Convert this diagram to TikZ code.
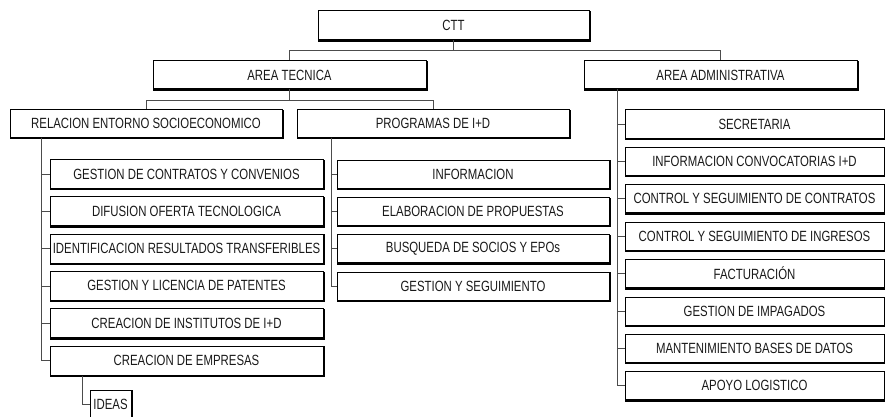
\documentclass[tikz,border=0pt]{standalone}
\usepackage{fontspec}
\setmainfont{Liberation Sans}[FakeStretch=0.77]
\usetikzlibrary{positioning, calc}
\tikzset{
    unitbox/.style = {draw=black, line width=1pt, inner sep=0pt, text centered,
        minimum height=28pt, font=\fontsize{14.8}{16}\selectfont, text=black!90},
    leaf/.style = {unitbox, minimum width=273pt, minimum height=29pt},
    progleaf/.style = {unitbox, minimum width=272pt},
    admleaf/.style = {unitbox, minimum width=259pt},
    link/.style = {draw=black!70, line width=0.7pt},
    shade3d/.style = {draw=black, line width=1.5pt},
}
\begin{document}
\begin{tikzpicture}[x=1pt, y=-1pt]
        \useasboundingbox (0,0) rectangle (885,417);
        % top levels
        \node [unitbox, minimum width=271pt, minimum height=29pt] (ctt) at (453.5,25.5) {CTT};
        \node [unitbox, minimum width=273pt] (tec) at (289.5,75) {AREA TECNICA};
        \node [unitbox, minimum width=273pt] (adm) at (720.5,75) {AREA ADMINISTRATIVA};
        \node [unitbox, minimum width=272pt, minimum height=27pt] (rel) at (146,123.5) {RELACION ENTORNO SOCIOECONOMICO};
        \node [unitbox, minimum width=272pt, minimum height=27pt] (prog) at (433,123.5) {PROGRAMAS DE I+D};
        % relacion entorno
        \node [leaf] (r1) at (186.5,174) {GESTION DE CONTRATOS Y CONVENIOS};
        \node [leaf, below=7.3pt of r1] (r2) {DIFUSION OFERTA TECNOLOGICA};
        \node [leaf, below=7.3pt of r2] (r3) {IDENTIFICACION RESULTADOS TRANSFERIBLES};
        \node [leaf, below=7.3pt of r3] (r4) {GESTION Y LICENCIA DE PATENTES};
        \node [leaf, below=7.3pt of r4] (r5) {CREACION DE INSTITUTOS DE I+D};
        \node [leaf, below=7.3pt of r5] (r6) {CREACION DE EMPRESAS};
        \node [unitbox, minimum width=41pt, minimum height=29pt] (ideas) at (110.5,404.5) {IDEAS};
        % programas
        \node [progleaf] (p1) at (473,174) {INFORMACION};
        \node [progleaf, below=8.4pt of p1] (p2) {ELABORACION DE PROPUESTAS};
        \node [progleaf, below=8.4pt of p2] (p3) {BUSQUEDA DE SOCIOS Y EPOs};
        \node [progleaf, below=8.4pt of p3] (p4) {GESTION Y SEGUIMIENTO};
        % administrativa
        \node [admleaf] (a1) at (754.5,124) {SECRETARIA};
        \node [admleaf, below=8.4pt of a1] (a2) {INFORMACION CONVOCATORIAS I+D};
        \node [admleaf, below=8.4pt of a2] (a3) {CONTROL Y SEGUIMIENTO DE CONTRATOS};
        \node [admleaf, below=8.4pt of a3] (a4) {CONTROL Y SEGUIMIENTO DE INGRESOS};
        \node [admleaf, below=8.4pt of a4] (a5) {FACTURACIÓN};
        \node [admleaf, below=8.4pt of a5] (a6) {GESTION DE IMPAGADOS};
        \node [admleaf, below=8.4pt of a6] (a7) {MANTENIMIENTO BASES DE DATOS};
        \node [admleaf, below=8.4pt of a7] (a8) {APOYO LOGISTICO};

        \foreach \n in {ctt,tec,adm,rel,prog,r1,r2,r3,r4,r5,r6,ideas,p1,p2,p3,p4,a1,a2,a3,a4,a5,a6,a7,a8}
            \draw [shade3d] ([shift={(0.7,0.7)}]\n.south west) -| ([shift={(0.7,0.7)}]\n.north east);

        % connectors
        \draw [link] (ctt.south) -- ++(0,10) -| (tec.north);
        \draw [link] (ctt.south) -- ++(0,10) -| (adm.north);
        \draw [link] (tec.south) -- ++(0,11) -| (rel.north);
        \draw [link] (tec.south) -- ++(0,11) -| (prog.north);
        \coordinate (rstem) at ($(rel.south west)+(32,0)$);
        \coordinate (pstem) at ($(prog.south west)+(35,0)$);
        \coordinate (astem) at ($(adm.south west)+(34,0)$);
        \foreach \n in {r1,r2,r3,r4,r5,r6}
            \draw [link] (rstem) |- (\n.west);
        \foreach \n in {p1,p2,p3,p4}
            \draw [link] (pstem) |- (\n.west);
        \foreach \n in {a1,a2,a3,a4,a5,a6,a7,a8}
            \draw [link] (astem) |- (\n.west);
        \draw [link] ($(r6.south west)+(33,0)$) |- (ideas.west);
\end{tikzpicture}
\end{document}
